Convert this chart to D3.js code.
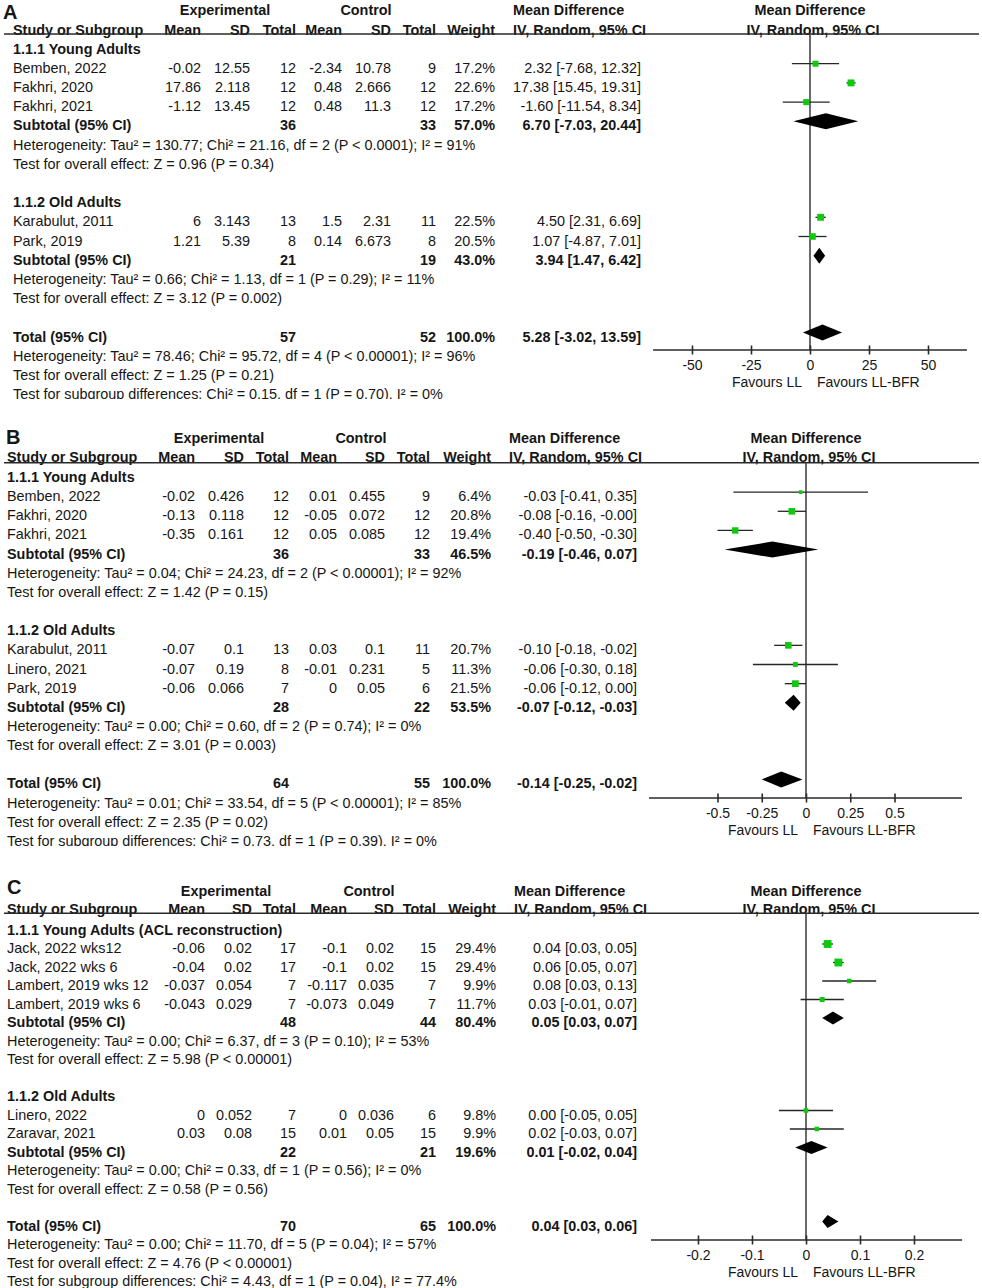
<!DOCTYPE html>
<html><head><meta charset="utf-8">
<script src="https://cdn.jsdelivr.net/npm/d3@7"></script>
<style>
body{margin:0;background:#fff}
svg{display:block}
text{font-family:"Liberation Sans",Arial,sans-serif;fill:#161616}
</style>
</head><body>
<svg id="chart" width="982" height="1288"></svg>
<script>
// ================= DATA =================
const colHeaders = ["Study or Subgroup","Mean","SD","Total","Mean","SD","Total","Weight"];
const groupHeaders = ["Experimental","Control"];
const mdHeaders = ["Mean Difference","IV, Random, 95% CI"];
const favourLabels = ["Favours LL","Favours LL-BFR"];
const subtotalLabel = "Subtotal (95% CI)";
const totalLabel = "Total (95% CI)";

// study rows: [study, expMean, expSD, expN, ctlMean, ctlSD, ctlN, weight%, MD, lower, upper]
// subtotal/total: [expN, ctlN, weight%, MD, lower, upper]

// ---- Panel A ----
const aGroupNames = ["1.1.1 Young Adults","1.1.2 Old Adults"];
const aYoung = [
  ["Bemben, 2022", -0.02, 12.55, 12, -2.34, 10.78, 9, 17.2, 2.32, -7.68, 12.32],
  ["Fakhri, 2020", 17.86, 2.118, 12, 0.48, 2.666, 12, 22.6, 17.38, 15.45, 19.31],
  ["Fakhri, 2021", -1.12, 13.45, 12, 0.48, 11.3, 12, 17.2, -1.60, -11.54, 8.34]
];
const aOld = [
  ["Karabulut, 2011", 6, 3.143, 13, 1.5, 2.31, 11, 22.5, 4.50, 2.31, 6.69],
  ["Park, 2019", 1.21, 5.39, 8, 0.14, 6.673, 8, 20.5, 1.07, -4.87, 7.01]
];
const aSubtotals = [[36, 33, 57.0, 6.70, -7.03, 20.44], [21, 19, 43.0, 3.94, 1.47, 6.42]];
const aTotal = [57, 52, 100.0, 5.28, -3.02, 13.59];
const aGroupNotes = [
  ["Heterogeneity: Tau² = 130.77; Chi² = 21.16, df = 2 (P < 0.0001); I² = 91%", "Test for overall effect: Z = 0.96 (P = 0.34)"],
  ["Heterogeneity: Tau² = 0.66; Chi² = 1.13, df = 1 (P = 0.29); I² = 11%", "Test for overall effect: Z = 3.12 (P = 0.002)"]
];
const aTotalNotes = [
  "Heterogeneity: Tau² = 78.46; Chi² = 95.72, df = 4 (P < 0.00001); I² = 96%",
  "Test for overall effect: Z = 1.25 (P = 0.21)",
  "Test for subgroup differences: Chi² = 0.15, df = 1 (P = 0.70), I² = 0%"
];
const aTicks = [-50, -25, 0, 25, 50];

// ---- Panel B ----
const bGroupNames = ["1.1.1 Young Adults","1.1.2 Old Adults"];
const bYoung = [
  ["Bemben, 2022", -0.02, 0.426, 12, 0.01, 0.455, 9, 6.4, -0.03, -0.41, 0.35],
  ["Fakhri, 2020", -0.13, 0.118, 12, -0.05, 0.072, 12, 20.8, -0.08, -0.16, -0.00],
  ["Fakhri, 2021", -0.35, 0.161, 12, 0.05, 0.085, 12, 19.4, -0.40, -0.50, -0.30]
];
const bOld = [
  ["Karabulut, 2011", -0.07, 0.1, 13, 0.03, 0.1, 11, 20.7, -0.10, -0.18, -0.02],
  ["Linero, 2021", -0.07, 0.19, 8, -0.01, 0.231, 5, 11.3, -0.06, -0.30, 0.18],
  ["Park, 2019", -0.06, 0.066, 7, 0, 0.05, 6, 21.5, -0.06, -0.12, 0.00]
];
const bSubtotals = [[36, 33, 46.5, -0.19, -0.46, 0.07], [28, 22, 53.5, -0.07, -0.12, -0.03]];
const bTotal = [64, 55, 100.0, -0.14, -0.25, -0.02];
const bGroupNotes = [
  ["Heterogeneity: Tau² = 0.04; Chi² = 24.23, df = 2 (P < 0.00001); I² = 92%", "Test for overall effect: Z = 1.42 (P = 0.15)"],
  ["Heterogeneity: Tau² = 0.00; Chi² = 0.60, df = 2 (P = 0.74); I² = 0%", "Test for overall effect: Z = 3.01 (P = 0.003)"]
];
const bTotalNotes = [
  "Heterogeneity: Tau² = 0.01; Chi² = 33.54, df = 5 (P < 0.00001); I² = 85%",
  "Test for overall effect: Z = 2.35 (P = 0.02)",
  "Test for subgroup differences: Chi² = 0.73, df = 1 (P = 0.39), I² = 0%"
];
const bTicks = [-0.5, -0.25, 0, 0.25, 0.5];

// ---- Panel C ----
const cGroupNames = ["1.1.1 Young Adults (ACL reconstruction)","1.1.2 Old Adults"];
const cYoung = [
  ["Jack, 2022 wks12", -0.06, 0.02, 17, -0.1, 0.02, 15, 29.4, 0.04, 0.03, 0.05],
  ["Jack, 2022 wks 6", -0.04, 0.02, 17, -0.1, 0.02, 15, 29.4, 0.06, 0.05, 0.07],
  ["Lambert, 2019 wks 12", -0.037, 0.054, 7, -0.117, 0.035, 7, 9.9, 0.08, 0.03, 0.13],
  ["Lambert, 2019 wks 6", -0.043, 0.029, 7, -0.073, 0.049, 7, 11.7, 0.03, -0.01, 0.07]
];
const cOld = [
  ["Linero, 2022", 0, 0.052, 7, 0, 0.036, 6, 9.8, 0.00, -0.05, 0.05],
  ["Zaravar, 2021", 0.03, 0.08, 15, 0.01, 0.05, 15, 9.9, 0.02, -0.03, 0.07]
];
const cSubtotals = [[48, 44, 80.4, 0.05, 0.03, 0.07], [22, 21, 19.6, 0.01, -0.02, 0.04]];
const cTotal = [70, 65, 100.0, 0.04, 0.03, 0.06];
const cGroupNotes = [
  ["Heterogeneity: Tau² = 0.00; Chi² = 6.37, df = 3 (P = 0.10); I² = 53%", "Test for overall effect: Z = 5.98 (P < 0.00001)"],
  ["Heterogeneity: Tau² = 0.00; Chi² = 0.33, df = 1 (P = 0.56); I² = 0%", "Test for overall effect: Z = 0.58 (P = 0.56)"]
];
const cTotalNotes = [
  "Heterogeneity: Tau² = 0.00; Chi² = 11.70, df = 5 (P = 0.04); I² = 57%",
  "Test for overall effect: Z = 4.76 (P < 0.00001)",
  "Test for subgroup differences: Chi² = 4.43, df = 1 (P = 0.04), I² = 77.4%"
];
const cTicks = [-0.2, -0.1, 0, 0.1, 0.2];

// ================= LAYOUT =================
const panels = [
  { letter:"A", groupNames:aGroupNames, groups:[aYoung,aOld], subtotals:aSubtotals, total:aTotal,
    groupNotes:aGroupNotes, totalNotes:aTotalNotes, ticks:aTicks,
    L:{ letterX:3, letterY:19, clipTop:0, clipBottom:399, h1:10, h2:29.5, lineY:34,
        studyX:13, cols:[201,250,296,342,391,436,495], ciRight:641, mdLeft:513,
        expC:225, ctlC:366, rowStart:48.5, rowStep:19.2, zeroX:810, unitPx:2.36,
        axisY:350, axisExt:[-66.5,66.5], diamondH:8 } },
  { letter:"B", groupNames:bGroupNames, groups:[bYoung,bOld], subtotals:bSubtotals, total:bTotal,
    groupNotes:bGroupNotes, totalNotes:bTotalNotes, ticks:bTicks,
    L:{ letterX:6, letterY:444, clipTop:415, clipBottom:846, h1:438, h2:457.3, lineY:462.7,
        studyX:7, cols:[195,244,289,337,385,430,491], ciRight:637, mdLeft:509,
        expC:219, ctlC:361, rowStart:477, rowStep:19.15, zeroX:806, unitPx:177,
        axisY:798, axisExt:[-0.887,0.881], diamondH:8 } },
  { letter:"C", groupNames:cGroupNames, groups:[cYoung,cOld], subtotals:cSubtotals, total:cTotal,
    groupNotes:cGroupNotes, totalNotes:cTotalNotes, ticks:cTicks,
    L:{ letterX:7, letterY:894, clipTop:865, clipBottom:1288, h1:891, h2:909.3, lineY:913.3,
        studyX:7, cols:[205,252,296,347,394,436,496], ciRight:637, mdLeft:514,
        expC:226, ctlC:369, rowStart:929.5, rowStep:18.5, zeroX:806, unitPx:540,
        axisY:1240, axisExt:[-0.287,0.289], diamondH:6.5 } }
];

const FS = 14.4;
const AXFS = 14;
const GREEN = "#10c810";
const fmt2 = v => ((v < 0 || Object.is(v, -0)) ? "-" : "") + Math.abs(v).toFixed(2);
const ciText = (m, lo, hi) => `${fmt2(m)} [${fmt2(lo)}, ${fmt2(hi)}]`;
const pct = w => w.toFixed(1) + "%";
const sizeScale = d3.scaleSqrt().domain([0, 100]).range([0, 14.5]);

const svg = d3.select("#chart");
const defs = svg.append("defs");

panels.forEach(P => {
  const L = P.L;
  defs.append("clipPath").attr("id", "clip" + P.letter)
    .append("rect").attr("x", 0).attr("y", L.clipTop).attr("width", 982).attr("height", L.clipBottom - L.clipTop);
  const g = svg.append("g").attr("clip-path", `url(#clip${P.letter})`);

  const t0 = P.ticks[0], t1 = P.ticks[P.ticks.length - 1];
  const x = d3.scaleLinear().domain([t0, t1])
    .range([L.zeroX + t0 * L.unitPx, L.zeroX + t1 * L.unitPx]);

  const txt = (s, xx, yy, anchor, bold, size) => g.append("text")
    .attr("x", xx).attr("y", yy).attr("dy", "0.35em")
    .attr("text-anchor", anchor || "start")
    .attr("font-size", size || FS)
    .attr("font-weight", bold ? "bold" : "normal")
    .text(s);

  // panel letter
  g.append("text").attr("x", L.letterX).attr("y", L.letterY)
    .attr("font-size", 20).attr("font-weight", "bold").text(P.letter);

  // headers
  txt(groupHeaders[0], L.expC, L.h1, "middle", true);
  txt(groupHeaders[1], L.ctlC, L.h1, "middle", true);
  txt(mdHeaders[0], L.mdLeft, L.h1, "start", true);
  txt(mdHeaders[1], L.mdLeft, L.h2, "start", true);
  txt(mdHeaders[0], L.zeroX, L.h1, "middle", true);
  txt(mdHeaders[1], L.zeroX + 3, L.h2, "middle", true);
  txt(colHeaders[0], L.studyX, L.h2, "start", true);
  colHeaders.slice(1).forEach((h, i) => txt(h, L.cols[i], L.h2, "end", true));

  // header rule
  g.append("line").attr("x1", 4).attr("x2", 979).attr("y1", L.lineY).attr("y2", L.lineY)
    .attr("stroke", "#2a2a2a").attr("stroke-width", 1.6);

  // zero line
  g.append("line").attr("x1", x(0)).attr("x2", x(0)).attr("y1", L.lineY).attr("y2", L.axisY)
    .attr("stroke", "#3a3a3a").attr("stroke-width", 1.5);

  const rowY = i => L.rowStart + i * L.rowStep;
  const markY = i => rowY(i) - 4;

  const diamond = (i, m, lo, hi) => {
    const y = markY(i), h = L.diamondH;
    g.append("polygon")
      .attr("points", [[x(lo), y], [x(m), y - h], [x(hi), y], [x(m), y + h]].map(p => p.join(",")).join(" "))
      .attr("fill", "#000");
  };

  let idx = 0;
  P.groups.forEach((studies, gi) => {
    txt(P.groupNames[gi], L.studyX, rowY(idx), "start", true);
    idx++;
    studies.forEach(s => {
      const y = rowY(idx);
      txt(s[0], L.studyX, y);
      [s[1], s[2], s[3], s[4], s[5], s[6]].forEach((v, k) => txt(String(v), L.cols[k], y, "end"));
      txt(pct(s[7]), L.cols[6], y, "end");
      txt(ciText(s[8], s[9], s[10]), L.ciRight, y, "end");
      const my = markY(idx);
      g.append("line").attr("x1", x(s[9])).attr("x2", x(s[10])).attr("y1", my).attr("y2", my)
        .attr("stroke", "#262626").attr("stroke-width", 1.3);
      const sz = sizeScale(s[7]);
      g.append("rect").attr("x", x(s[8]) - sz / 2).attr("y", my - sz / 2)
        .attr("width", sz).attr("height", sz).attr("fill", GREEN);
      idx++;
    });
    const st = P.subtotals[gi];
    const y = rowY(idx);
    txt(subtotalLabel, L.studyX, y, "start", true);
    txt(String(st[0]), L.cols[2], y, "end", true);
    txt(String(st[1]), L.cols[5], y, "end", true);
    txt(pct(st[2]), L.cols[6], y, "end", true);
    txt(ciText(st[3], st[4], st[5]), L.ciRight, y, "end", true);
    diamond(idx, st[3], st[4], st[5]);
    idx++;
    P.groupNotes[gi].forEach(n => { txt(n, L.studyX, rowY(idx)); idx++; });
    idx++; // blank row
  });

  // total
  const T = P.total, ty = rowY(idx);
  txt(totalLabel, L.studyX, ty, "start", true);
  txt(String(T[0]), L.cols[2], ty, "end", true);
  txt(String(T[1]), L.cols[5], ty, "end", true);
  txt(pct(T[2]), L.cols[6], ty, "end", true);
  txt(ciText(T[3], T[4], T[5]), L.ciRight, ty, "end", true);
  diamond(idx, T[3], T[4], T[5]);
  idx++;
  P.totalNotes.forEach(n => { txt(n, L.studyX, rowY(idx)); idx++; });

  // axis
  g.append("line").attr("x1", x(L.axisExt[0])).attr("x2", x(L.axisExt[1]))
    .attr("y1", L.axisY).attr("y2", L.axisY).attr("stroke", "#2a2a2a").attr("stroke-width", 1.6);
  const ax = g.append("g").attr("transform", `translate(0,${L.axisY - 4.5})`)
    .call(d3.axisBottom(x).tickValues(P.ticks).tickSize(9).tickFormat(d => String(d)));
  ax.attr("font-size", null).attr("font-family", null);
  ax.select(".domain").remove();
  ax.selectAll(".tick line").attr("stroke", "#2a2a2a").attr("stroke-width", 1.6);
  ax.selectAll(".tick text").attr("y", 19.5).attr("dy", "0.35em").attr("font-size", AXFS)
    .attr("fill", "#161616");

  txt(favourLabels[0], x(0) - 8, L.axisY + 32, "end", false, AXFS);
  txt(favourLabels[1], x(0) + 7, L.axisY + 32, "start", false, AXFS);
});
</script>
</body></html>
